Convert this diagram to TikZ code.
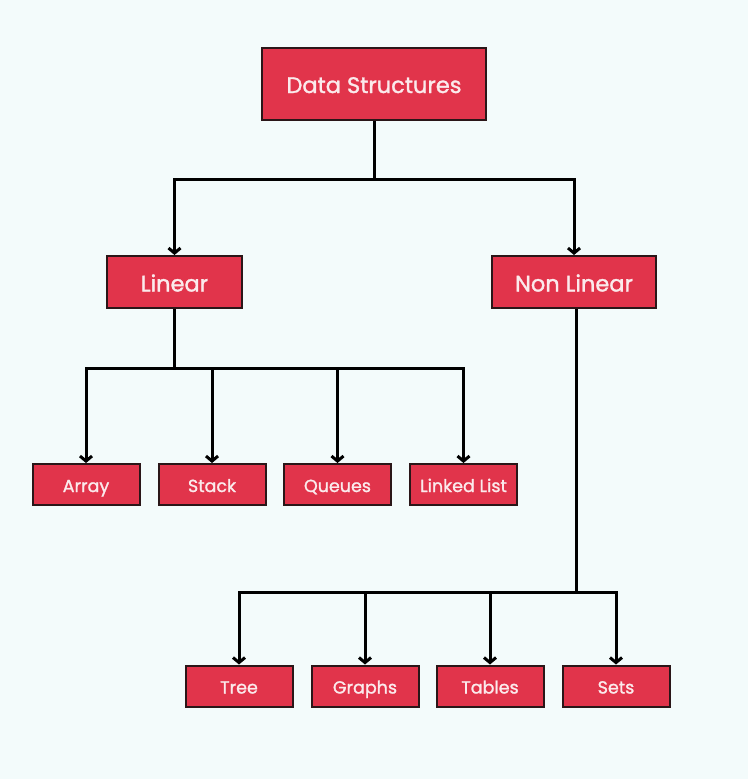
\documentclass[tikz,border=0pt]{standalone}
\usepackage{fontspec}
\setmainfont{Poppins}[FakeBold=1.4]
\usetikzlibrary{arrows.meta}
\definecolor{boxred}{HTML}{E1344B}
\definecolor{boxline}{HTML}{2A1618}
\definecolor{boxtext}{HTML}{FBEAEC}
\definecolor{paper}{HTML}{F3FBFB}
\begin{document}
\begin{tikzpicture}[x=1pt,y=-1pt]
\tikzstyle{topbox}=[draw=boxline,line width=2pt,fill=boxred,text=boxtext,inner sep=0pt,minimum width=224pt,minimum height=72pt,text height=18pt,text depth=0pt,font=\fontsize{22.5}{27}\selectfont]
\tikzstyle{midbox}=[draw=boxline,line width=2pt,fill=boxred,text=boxtext,inner sep=0pt,minimum height=52pt,text height=19pt,text depth=0pt,font=\fontsize{22.5}{27}\selectfont]
\tikzstyle{leafbox}=[draw=boxline,line width=2pt,fill=boxred,text=boxtext,inner sep=0pt,minimum width=107pt,minimum height=41pt,text height=15pt,text depth=0pt,font=\fontsize{17.5}{21}\selectfont]
\tikzstyle{link}=[draw=black,line width=3pt]
\tikzstyle{arrow}=[link,-{Straight Barb[length=5pt,width=12pt]}]
\fill[paper] (0,0) rectangle (748,779);
\useasboundingbox (0,0) rectangle (748,779);
\node[topbox] (ds) at (374,84) {Data Structures};
\node[midbox,minimum width=135pt] (lin) at (174.5,282) {Linear};
\node[midbox,minimum width=164pt] (nonlin) at (574,282) {Non Linear};
\node[leafbox] (arr) at (86,484.5) {Array};
\node[leafbox] (stk) at (212,484.5) {Stack};
\node[leafbox] (que) at (337.5,484.5) {Queues};
\node[leafbox] (lnk) at (463.5,484.5) {Linked List};
\node[leafbox] (tree) at (239,686) {Tree};
\node[leafbox] (gra) at (365,686) {Graphs};
\node[leafbox] (tab) at (490,686) {Tables};
\node[leafbox] (sets) at (616,686) {Sets};
\coordinate (j0) at (374,179);
\coordinate (j1) at (174.5,368);
\coordinate (j2) at (576,592);
\draw[link] (ds) -- (j0);
\draw[arrow] (j0) -| (lin);
\draw[arrow] (j0) -| (nonlin);
\draw[link] (lin) -- (j1);
\draw[arrow] (j1) -| (arr);
\draw[arrow] (j1) -| (stk);
\draw[arrow] (j1) -| (que);
\draw[arrow] (j1) -| (lnk);
\draw[link] (nonlin.south -| j2) -- (j2);
\draw[arrow] (j2) -| (tree);
\draw[arrow] (j2) -| (gra);
\draw[arrow] (j2) -| (tab);
\draw[arrow] (j2) -| (sets);
\end{tikzpicture}
\end{document}
